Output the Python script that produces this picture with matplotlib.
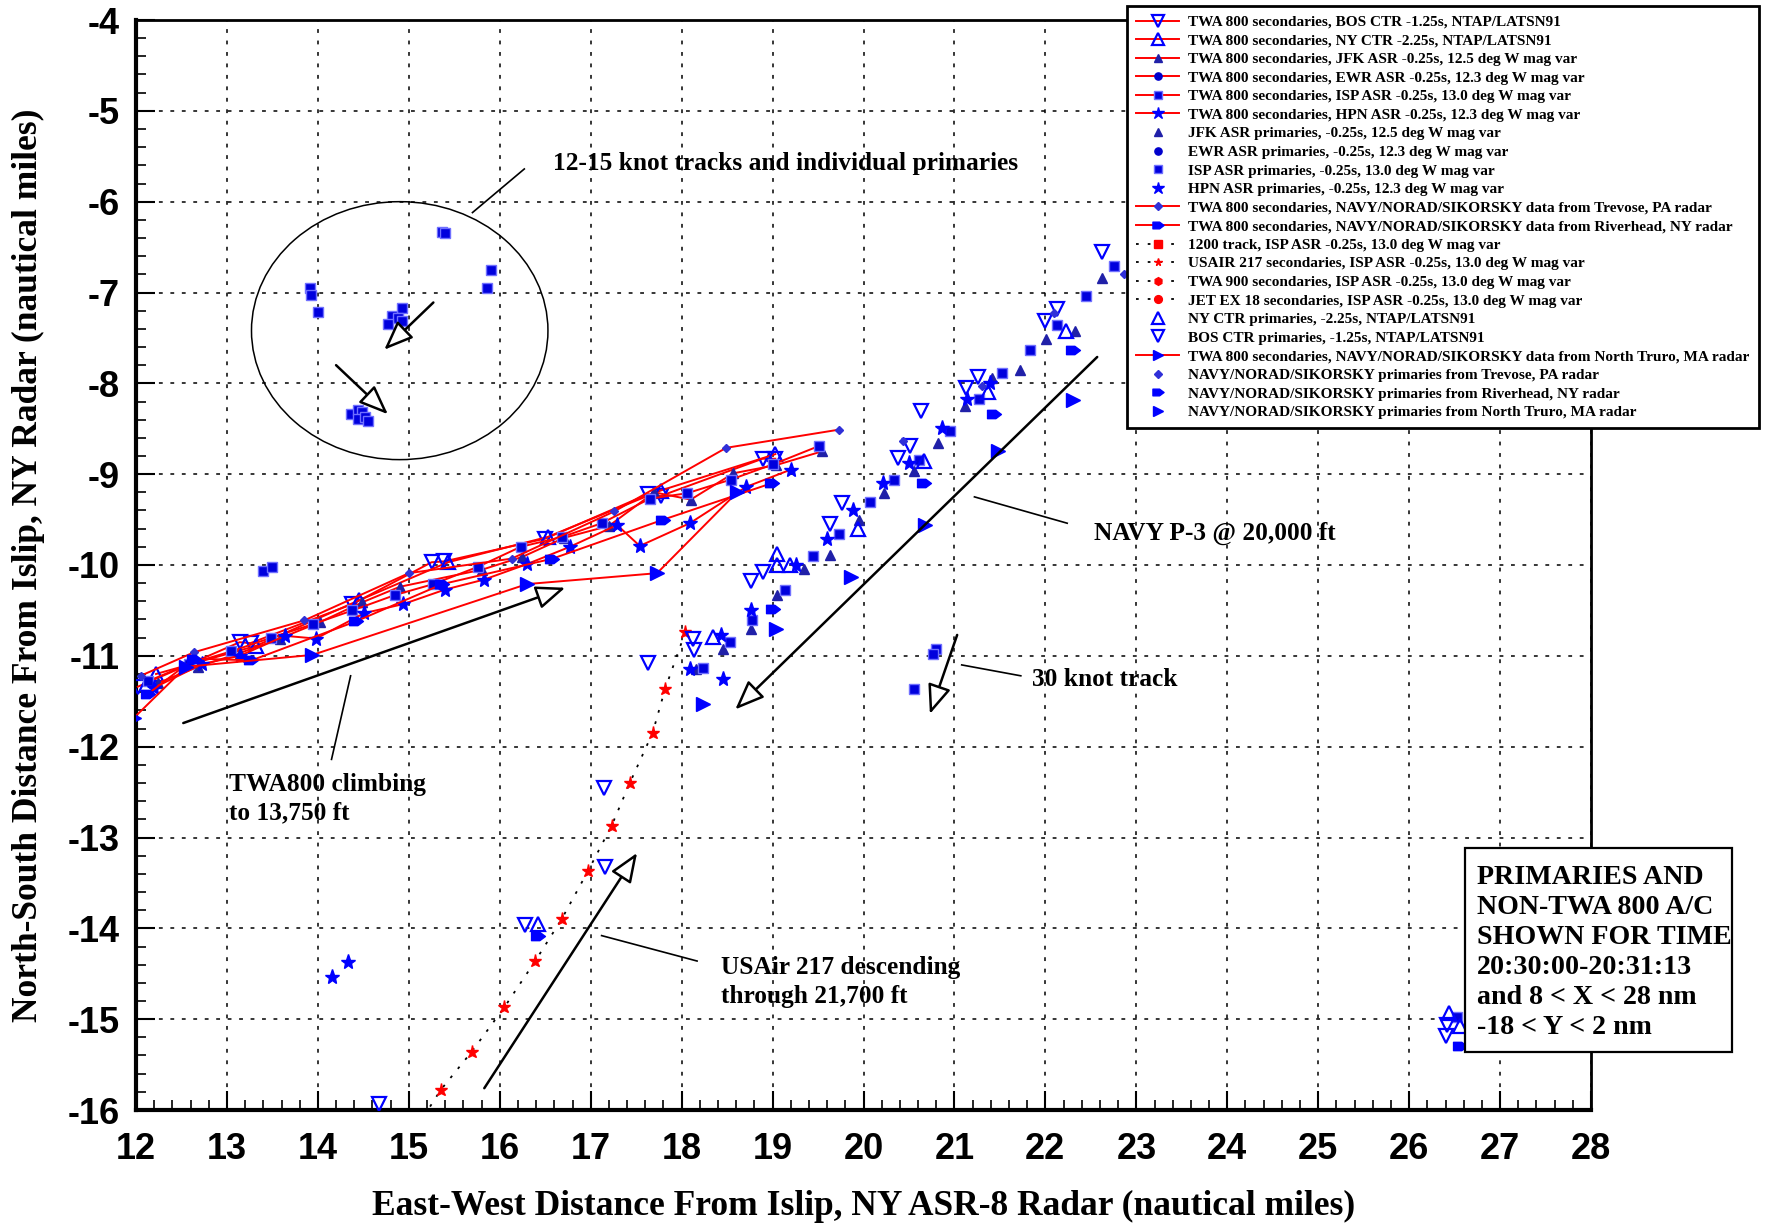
import numpy as np
import matplotlib.pyplot as plt
from matplotlib.lines import Line2D
from matplotlib.patches import Ellipse, Rectangle
from matplotlib.path import Path
from matplotlib.ticker import MultipleLocator

plt.rcParams['axes.unicode_minus'] = False

SERIF = 'Liberation Serif'
SANS = 'Liberation Sans'
BLUE = '#0000ff'
RED = '#ff0000'

# ---- TWA 800 secondaries (red tracks) ----
bos_sec_x = [12.02, 13.14, 13.26, 14.38, 15.25, 15.39, 16.50, 17.63, 17.77, 18.89, 19.03]
bos_sec_y = [-11.34, -10.85, -10.86, -10.43, -9.97, -9.96, -9.71, -9.22, -9.24, -8.83, -8.83]
ny_sec_x = [12.22, 13.32, 14.45, 15.43, 16.53, 17.77, 19.03]
ny_sec_y = [-11.20, -10.89, -10.39, -9.97, -9.69, -9.18, -8.78]
jfk_sec_x = [12.24, 12.68, 13.14, 13.58, 14.02, 14.49, 14.90, 15.81, 16.25, 16.71, 17.20, 17.70, 18.10, 18.57, 19.04, 19.54]
jfk_sec_y = [-11.30, -11.12, -10.97, -10.81, -10.63, -10.41, -10.24, -10.05, -9.91, -9.70, -9.57, -9.20, -9.28, -8.99, -8.90, -8.75]
ewr_sec_x = []
ewr_sec_y = []
isp_sec_x = [12.13, 12.58, 13.05, 13.49, 13.95, 14.38, 14.85, 15.27, 15.76, 16.23, 16.69, 17.12, 17.65, 18.06, 18.54, 19.01, 19.51]
isp_sec_y = [-11.28, -11.09, -10.95, -10.80, -10.65, -10.50, -10.33, -10.21, -10.02, -9.80, -9.69, -9.54, -9.27, -9.21, -9.06, -8.89, -8.69]
hpn_sec_x = [12.20, 12.73, 13.14, 13.64, 13.98, 14.51, 14.94, 15.40, 15.83, 16.30, 16.77, 17.29, 17.54, 18.09, 18.71, 19.20]
hpn_sec_y = [-11.35, -11.09, -11.00, -10.78, -10.81, -10.53, -10.43, -10.27, -10.16, -9.99, -9.80, -9.56, -9.79, -9.54, -9.14, -8.95]
trev_sec_x = [12.05, 12.64, 13.85, 15.00, 16.13, 17.26, 18.49, 19.73]
trev_sec_y = [-11.22, -10.96, -10.61, -10.09, -9.93, -9.41, -8.71, -8.51]
riv_sec_x = [12.13, 12.64, 13.27, 14.42, 15.37, 16.58, 17.80, 18.99]
riv_sec_y = [-11.42, -11.03, -11.05, -10.62, -10.21, -9.93, -9.50, -9.10]
nt_sec_x = [11.98, 12.55, 13.94, 16.30, 17.73, 18.61]
nt_sec_y = [-11.68, -11.12, -10.99, -10.21, -10.09, -9.20]

# ---- primaries ----
jfk_pri_x = [22.62, 22.33, 22.01, 21.72, 21.41, 21.12, 20.82, 20.55, 20.23, 19.95, 19.63, 19.35, 19.05, 18.76, 18.45, 18.16]
jfk_pri_y = [-6.84, -7.42, -7.51, -7.85, -7.94, -8.25, -8.66, -8.97, -9.21, -9.51, -9.89, -10.04, -10.33, -10.71, -10.93, -11.15]
ewr_pri_x = []
ewr_pri_y = []
isp_pri_x = [22.76, 22.45, 22.13, 21.83, 21.52, 21.27, 20.95, 20.61, 20.34, 20.07, 19.73, 19.44, 19.14, 18.77, 18.53, 18.24,
             13.40, 13.50, 15.36, 15.40, 15.90, 15.86, 13.91, 13.92, 14.00, 14.93, 14.81, 14.88, 14.92, 14.77,
             14.36, 14.44, 14.48, 14.44, 14.52, 14.55, 20.80, 20.76, 20.55, 26.53]
isp_pri_y = [-6.71, -7.04, -7.36, -7.63, -7.89, -8.17, -8.53, -8.84, -9.06, -9.31, -9.66, -9.90, -10.27, -10.61, -10.85, -11.13,
             -10.07, -10.02, -6.33, -6.35, -6.75, -6.95, -6.95, -7.03, -7.21, -7.17, -7.26, -7.28, -7.31, -7.35,
             -8.34, -8.29, -8.32, -8.39, -8.37, -8.42, -10.92, -10.98, -11.37, -14.98]
hpn_pri_x = [21.39, 21.14, 20.86, 20.50, 20.21, 19.88, 19.60, 19.26, 18.76, 18.43, 18.09, 18.45, 14.33, 14.16]
hpn_pri_y = [-8.00, -8.17, -8.49, -8.88, -9.10, -9.39, -9.71, -10.00, -10.49, -10.77, -11.14, -11.26, -14.37, -14.54]
ny_pri_x = [22.23, 21.37, 20.66, 19.94, 19.05, 19.05, 19.19, 18.34, 16.42, 26.44, 26.56]
ny_pri_y = [-7.42, -8.09, -8.85, -9.60, -9.88, -10.00, -10.00, -10.79, -13.95, -14.93, -15.08]
bos_pri_x = [22.62, 22.13, 22.00, 21.26, 21.13, 20.63, 20.51, 20.38, 19.76, 19.63, 18.90, 18.76, 18.13, 18.14,
             17.63, 17.15, 17.16, 16.28, 14.67, 26.42, 26.40]
bos_pri_y = [-6.55, -7.18, -7.31, -7.93, -8.05, -8.30, -8.69, -8.82, -9.32, -9.55, -10.08, -10.18, -10.82, -10.94,
             -11.08, -12.46, -13.33, -13.96, -15.93, -15.06, -15.19]
trev_pri_x = [22.87, 22.09, 21.30, 20.43]
trev_pri_y = [-6.80, -7.23, -8.03, -8.63]
riv_pri_x = [22.30, 21.43, 20.67, 19.01, 16.42, 26.56]
riv_pri_y = [-7.63, -8.34, -9.10, -10.48, -14.08, -15.29]
nt_pri_x = [22.30, 21.48, 20.68, 19.86, 19.04, 18.24]
nt_pri_y = [-8.18, -8.74, -9.56, -10.13, -10.71, -11.53]

# ---- other aircraft (ISP secondaries, red markers) ----
usair_x = [18.04, 17.82, 17.68, 17.43, 17.23, 16.97, 16.68, 16.39, 16.05, 15.69, 15.35, 15.05]
usair_y = [-10.74, -11.36, -11.85, -12.40, -12.87, -13.37, -13.90, -14.36, -14.87, -15.36, -15.78, -16.25]

x_ticks = list(range(12, 29))
y_ticks = list(range(-16, -3))

labels = [
    'TWA 800 secondaries, BOS CTR -1.25s, NTAP/LATSN91',
    'TWA 800 secondaries, NY CTR -2.25s, NTAP/LATSN91',
    'TWA 800 secondaries, JFK ASR -0.25s, 12.5 deg W mag var',
    'TWA 800 secondaries, EWR ASR -0.25s, 12.3 deg W mag var',
    'TWA 800 secondaries, ISP ASR -0.25s, 13.0 deg W mag var',
    'TWA 800 secondaries, HPN ASR -0.25s, 12.3 deg W mag var',
    'JFK ASR primaries, -0.25s, 12.5 deg W mag var',
    'EWR ASR primaries, -0.25s, 12.3 deg W mag var',
    'ISP ASR primaries, -0.25s, 13.0 deg W mag var',
    'HPN ASR primaries, -0.25s, 12.3 deg W mag var',
    'TWA 800 secondaries, NAVY/NORAD/SIKORSKY data from Trevose, PA radar',
    'TWA 800 secondaries, NAVY/NORAD/SIKORSKY data from Riverhead, NY radar',
    '1200 track, ISP ASR -0.25s, 13.0 deg W mag var',
    'USAIR 217 secondaries, ISP ASR -0.25s, 13.0 deg W mag var',
    'TWA 900 secondaries, ISP ASR -0.25s, 13.0 deg W mag var',
    'JET EX 18 secondaries, ISP ASR -0.25s, 13.0 deg W mag var',
    'NY CTR primaries, -2.25s, NTAP/LATSN91',
    'BOS CTR primaries, -1.25s, NTAP/LATSN91',
    'TWA 800 secondaries, NAVY/NORAD/SIKORSKY data from North Truro, MA radar',
    'NAVY/NORAD/SIKORSKY primaries from Trevose, PA radar',
    'NAVY/NORAD/SIKORSKY primaries from Riverhead, NY radar',
    'NAVY/NORAD/SIKORSKY primaries from North Truro, MA radar',
]

riv_marker = Path([(-1, -0.6), (0.2, -0.6), (1, 0), (0.2, 0.6), (-1, 0.6), (-1, -0.6)], closed=True)

sty = {
    'bos': dict(marker='v', ms=10, mfc='none', mec=BLUE, mew=1.6),
    'ny': dict(marker='^', ms=10, mfc='none', mec=BLUE, mew=1.6),
    'jfk': dict(marker='^', ms=6.5, mfc='#2020a8', mec='#2020a8'),
    'ewr': dict(marker='o', ms=6.5, mfc='#0000cc', mec='#0000cc'),
    'isp': dict(marker='s', ms=7.5, mfc='#0000dd', mec='#7070ff', mew=1),
    'hpn': dict(marker='*', ms=11, mfc=BLUE, mec=BLUE),
    'trev': dict(marker='D', ms=4.5, mfc='#3030d8', mec='#3030d8'),
    'riv': dict(marker=riv_marker, ms=10, mfc=BLUE, mec=BLUE),
    'nt': dict(marker='>', ms=9.5, mfc=BLUE, mec=BLUE),
}

fig = plt.figure(figsize=(17.73, 12.25), dpi=100)
ax = fig.add_axes([136 / 1773, 1 - 1110 / 1225, 1455 / 1773, 1090 / 1225])

# secondaries tracks
for xs, ys, k in [(bos_sec_x, bos_sec_y, 'bos'), (ny_sec_x, ny_sec_y, 'ny'), (jfk_sec_x, jfk_sec_y, 'jfk'),
                  (ewr_sec_x, ewr_sec_y, 'ewr'), (isp_sec_x, isp_sec_y, 'isp'), (hpn_sec_x, hpn_sec_y, 'hpn'),
                  (trev_sec_x, trev_sec_y, 'trev'), (riv_sec_x, riv_sec_y, 'riv'), (nt_sec_x, nt_sec_y, 'nt')]:
    ax.plot(xs, ys, color=RED, lw=1.4, zorder=3, **sty[k])

# primaries
for xs, ys, k in [(jfk_pri_x, jfk_pri_y, 'jfk'), (ewr_pri_x, ewr_pri_y, 'ewr'), (isp_pri_x, isp_pri_y, 'isp'),
                  (hpn_pri_x, hpn_pri_y, 'hpn'), (ny_pri_x, ny_pri_y, 'ny'), (bos_pri_x, bos_pri_y, 'bos'),
                  (trev_pri_x, trev_pri_y, 'trev'), (riv_pri_x, riv_pri_y, 'riv'), (nt_pri_x, nt_pri_y, 'nt')]:
    ax.plot(xs, ys, ls='none', zorder=4, **sty[k])

# USAir 217
ax.plot(usair_x, usair_y, color='black', ls=(0, (1.5, 5)), lw=1.3, marker='*', ms=9.5,
        mfc=RED, mec=RED, zorder=3)

ax.set_xlim(12, 28)
ax.set_ylim(-16, -4)
ax.set_xticks(x_ticks)
ax.set_yticks(y_ticks)
ax.set_xticklabels([str(v) for v in x_ticks], fontfamily=SANS, fontweight='bold')
ax.set_yticklabels([str(v) for v in y_ticks], fontfamily=SANS, fontweight='bold')
ax.xaxis.set_minor_locator(MultipleLocator(0.2))
ax.yaxis.set_minor_locator(MultipleLocator(0.2))
ax.tick_params(which='both', direction='in', top=False, right=False)
ax.tick_params(which='major', length=14, width=1.5, labelsize=26, pad=12)
ax.tick_params(axis='x', which='major', pad=16)
ax.tick_params(which='minor', length=7, width=1.2)
ax.grid(True, which='major', color='black', ls=(0, (2.5, 5)), lw=1.1)
ax.spines['left'].set_linewidth(3)
ax.spines['bottom'].set_linewidth(3)
ax.spines['top'].set_linewidth(2)
ax.spines['right'].set_linewidth(2)

fig.text(863.5 / 1773, 1 - 1206 / 1225, 'East-West Distance From Islip, NY ASR-8 Radar (nautical miles)',
         ha='center', va='center', fontsize=25.5, fontfamily=SERIF, fontweight='bold')
fig.text(28 / 1773, 1 - 565 / 1225, 'North-South Distance From Islip, NY Radar (nautical miles)',
         ha='center', va='center', rotation=90, fontsize=25.5, fontfamily=SERIF, fontweight='bold')

# annotations
afont = dict(fontsize=18.3, fontfamily=SERIF, fontweight='bold')


def open_arrow(tail, head):
    ax.annotate('', xy=head, xytext=tail,
                arrowprops=dict(arrowstyle='-|>,head_length=0.9,head_width=0.36', mutation_scale=20,
                                fc='white', ec='black', lw=1.8, shrinkA=0, shrinkB=0), zorder=5)


def leader(p0, p1):
    ax.plot([p0[0], p1[0]], [p0[1], p1[1]], color='black', lw=1.2, zorder=5)


ax.add_patch(Ellipse((14.90, -7.42), 3.26, 2.84, fill=False, ec='black', lw=1.1, zorder=5))
leader((15.70, -6.12), (16.27, -5.64))
ax.text(16.59, -5.58, '12-15 knot tracks and individual primaries', va='center', ha='left', **afont)
open_arrow((15.27, -7.11), (14.73, -7.63))
open_arrow((14.20, -7.80), (14.77, -8.34))

open_arrow((12.52, -11.74), (16.72, -10.25))
leader((14.36, -11.22), (14.15, -12.14))
ax.text(13.02, -12.57, 'TWA800 climbing\nto 13,750 ft', va='center', ha='left', linespacing=1.3, **afont)

open_arrow((22.57, -7.71), (18.59, -11.59))
leader((21.22, -9.25), (22.24, -9.54))
ax.text(22.54, -9.65, 'NAVY P-3 @ 20,000 ft', va='center', ha='left', **afont)

open_arrow((21.03, -10.77), (20.73, -11.64))
leader((21.08, -11.10), (21.73, -11.22))
ax.text(21.85, -11.26, '30 knot track', va='center', ha='left', **afont)

open_arrow((15.83, -15.76), (17.51, -13.17))
leader((17.12, -14.08), (18.17, -14.36))
ax.text(18.43, -14.59, 'USAir 217 descending\nthrough 21,700 ft', va='center', ha='left', linespacing=1.3, **afont)

# legend
def sec_handle(k):
    return Line2D([], [], color=RED, lw=1.4, **sty[k])


def pri_handle(k):
    return Line2D([], [], ls='none', **sty[k])


def red_handle(m):
    return Line2D([], [], color='black', ls=(0, (1.5, 5)), lw=1.3, marker=m, ms=7, mfc=RED, mec=RED)


handles = [sec_handle('bos'), sec_handle('ny'), sec_handle('jfk'), sec_handle('ewr'), sec_handle('isp'),
           sec_handle('hpn'), pri_handle('jfk'), pri_handle('ewr'), pri_handle('isp'), pri_handle('hpn'),
           sec_handle('trev'), sec_handle('riv'), red_handle('s'), red_handle('*'), red_handle('h'),
           red_handle('o'), pri_handle('ny'), pri_handle('bos'), sec_handle('nt'), pri_handle('trev'),
           pri_handle('riv'), pri_handle('nt')]

leg = fig.legend(handles, labels, loc='upper left', bbox_to_anchor=(1127 / 1773, 1 - 6 / 1225),
                 bbox_transform=fig.transFigure, prop={'family': SERIF, 'weight': 'bold', 'size': 11},
                 frameon=True, fancybox=False, edgecolor='black', framealpha=1, borderaxespad=0,
                 labelspacing=0.32, handlelength=2.8, handletextpad=0.6, borderpad=0.6,
                 numpoints=1, markerscale=0.8)
leg.get_frame().set_linewidth(2)

# time box
fig.add_artist(Rectangle((1465 / 1773, 1 - 1052 / 1225), 267 / 1773, 204 / 1225, transform=fig.transFigure,
                         fc='white', ec='black', lw=1.6, zorder=6))
fig.text(1477 / 1773, 1 - 865 / 1225,
         'PRIMARIES AND\nNON-TWA 800 A/C\nSHOWN FOR TIME\n20:30:00-20:31:13\nand 8 < X < 28 nm\n-18 < Y < 2 nm',
         ha='left', va='top', fontsize=20.2, fontfamily=SERIF, fontweight='bold', linespacing=1.26, zorder=7)

fig.savefig('out.png', dpi=100)
